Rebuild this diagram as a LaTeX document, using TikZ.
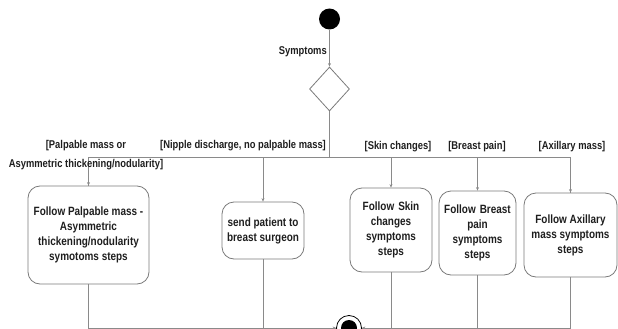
\documentclass[tikz,border=0pt]{standalone}
\usepackage{fontspec}
\setmainfont{Liberation Sans}[FakeStretch=0.83]
\usetikzlibrary{shapes.geometric,arrows.meta}
\definecolor{linegray}{HTML}{8A8A8A}
\definecolor{boxgray}{HTML}{7A7A7A}
\definecolor{txt}{HTML}{1E1E1E}
\tikzset{
  flow/.style={draw=linegray, line width=0.9pt},
  arr/.style={flow, -{Stealth[length=3.5pt,width=3pt]}},
  actbox/.style={draw=boxgray, line width=0.8pt, rounded corners=12pt, align=center,
    font=\fontsize{12}{15}\selectfont\bfseries, text=txt, inner sep=2pt},
  guard/.style={font=\fontsize{11.3}{19}\selectfont\bfseries, text=txt, inner sep=0pt, align=center},
}
\begin{document}
\begin{tikzpicture}[x=1pt,y=-1pt]
\useasboundingbox (0,0) rectangle (618,329);
% start
\node[circle, fill=black, minimum size=21pt, inner sep=0pt] (start) at (329.5,19) {};
\node[diamond, draw=boxgray, line width=0.8pt, minimum width=40pt, minimum height=44pt, inner sep=0pt] (dec) at (329.5,89) {};
\draw[arr] (start) -- (dec.north);
\node[guard, anchor=east] (sym) at (327,52) {Symptoms};
% junction
\coordinate (j) at (329.5,157);
\draw[flow] (dec.south) -- (j);
% boxes
\node[actbox, minimum width=121pt, minimum height=98pt] (b1) at (88.5,235) {Follow Palpable mass -\\Asymmetric\\thickening/nodularity\\symotoms steps};
\node[actbox, minimum width=82pt, minimum height=57pt] (b2) at (263,230.5) {send patient to\\breast surgeon};
\node[actbox, minimum width=82pt, minimum height=84pt, text width=76pt] (b3) at (391,230) {Follow Skin\\changes\\symptoms\\steps};
\node[actbox, minimum width=77pt, minimum height=84pt, text width=72pt] (b4) at (477.5,233) {Follow Breast\\pain\\symptoms\\steps};
\node[actbox, minimum width=93pt, minimum height=84pt] (b5) at (570.5,235) {Follow Axillary\\mass symptoms\\steps};
% branch lines
\draw[flow] (j) -| (b1.north);
\draw[flow] (j) -| (b5.north);
\draw[arr] (b1.north |- j) -- (b1.north);
\draw[arr] (b2.north |- j) -- (b2.north);
\draw[arr] (b3.north |- j) -- (b3.north);
\draw[arr] (b4.north |- j) -- (b4.north);
\draw[arr] (b5.north |- j) -- (b5.north);
% guards
\node[guard] (g1) at (86,155.5) {[Palpable mass or\\Asymmetric thickening/nodularity]};
\node[guard] (g2) at (243,146) {[Nipple discharge, no palpable mass]};
\node[guard] (g3) at (398,147) {[Skin changes]};
\node[guard] (g4) at (477,147) {[Breast pain]};
\node[guard] (g5) at (572,147) {[Axillary mass]};
% end
\node[circle, draw=black, line width=0.8pt, fill=white, minimum size=25pt, inner sep=0pt] (fin) at (349,328) {};
\node[circle, fill=black, minimum size=16pt, inner sep=0pt] (finin) at (fin.center) {};
\draw[arr] (b1.south) |- (fin.west);
\draw[flow] (b2.south) |- (fin.west);
\draw[arr] (b5.south) |- (fin.east);
\draw[flow] (b3.south) |- (fin.east);
\draw[flow] (b4.south) |- (fin.east);
\end{tikzpicture}
\end{document}
